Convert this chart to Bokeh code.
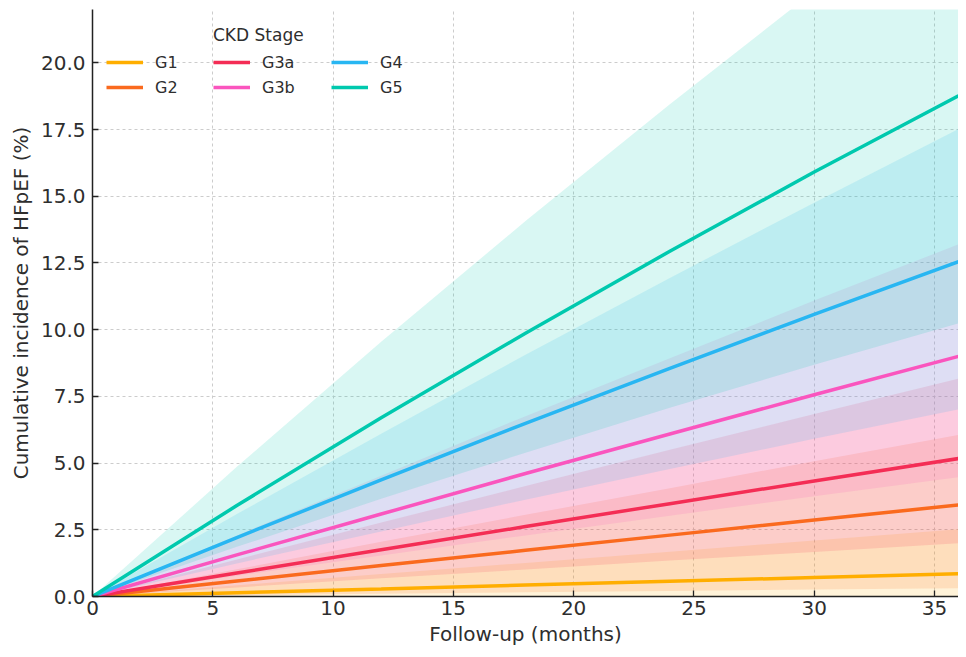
from bokeh.plotting import figure
from bokeh.models import Range1d, FixedTicker, PrintfTickFormatter, Legend, LegendItem
from bokeh.embed import file_html
from bokeh.resources import INLINE

# ---- data ----
months = [0, 6, 12, 18, 24, 30, 36]
stages = ["G1", "G2", "G3a", "G3b", "G4", "G5"]
colors = ["#FFAE00", "#FA6A1E", "#F42D55", "#FA55BE", "#28B6F2", "#00C9AE"]

g1_est = [0, 0.14, 0.28, 0.43, 0.57, 0.71, 0.85]
g1_lo = [0, 0.00, 0.00, 0.00, 0.00, 0.00, 0.00]
g1_hi = [0, 0.42, 0.84, 1.26, 1.68, 2.10, 2.52]

g2_est = [0, 0.58, 1.16, 1.73, 2.30, 2.87, 3.43]
g2_lo = [0, 0.05, 0.10, 0.16, 0.21, 0.26, 0.31]
g2_hi = [0, 1.02, 2.05, 3.06, 4.06, 5.07, 6.06]

g3a_est = [0, 0.88, 1.75, 2.62, 3.48, 4.33, 5.17]
g3a_lo = [0, 0.34, 0.68, 1.01, 1.35, 1.67, 2.00]
g3a_hi = [0, 1.39, 2.77, 4.14, 5.50, 6.84, 8.17]

g3b_est = [0, 1.56, 3.09, 4.61, 6.09, 7.56, 9.00]
g3b_lo = [0, 0.78, 1.54, 2.29, 3.03, 3.76, 4.47]
g3b_hi = [0, 2.29, 4.53, 6.76, 8.93, 11.09, 13.20]

g4_est = [0, 2.21, 4.37, 6.49, 8.55, 10.57, 12.55]
g4_lo = [0, 1.24, 2.44, 3.63, 4.78, 5.91, 7.01]
g4_hi = [0, 3.09, 6.10, 9.06, 11.94, 14.76, 17.52]

g5_est = [0, 3.41, 6.70, 9.87, 12.94, 15.91, 18.77]
g5_lo = [0, 1.86, 3.66, 5.39, 7.07, 8.69, 10.24]
g5_hi = [0, 4.86, 9.55, 14.07, 18.45, 22.69, 26.77]

x_ticks = [0, 5, 10, 15, 20, 25, 30, 35]
y_ticks = [0, 2.5, 5, 7.5, 10, 12.5, 15, 17.5, 20]

series = [
    (g1_est, g1_lo, g1_hi),
    (g2_est, g2_lo, g2_hi),
    (g3a_est, g3a_lo, g3a_hi),
    (g3b_est, g3b_lo, g3b_hi),
    (g4_est, g4_lo, g4_hi),
    (g5_est, g5_lo, g5_hi),
]

FONT = "DejaVu Sans"
TXT = "#2e2e2e"

p = figure(width=958, height=649, output_backend="svg", toolbar_location=None,
           x_range=Range1d(0, 36), y_range=Range1d(0, 22),
           min_border_left=92, min_border_right=0, min_border_top=9, min_border_bottom=53)
p.outline_line_color = None
p.background_fill_color = "white"

# confidence bands first, then all lines on top
for (est, lo, hi), col in zip(series, colors):
    p.varea(x=months, y1=lo, y2=hi, fill_color=col, fill_alpha=0.15)

line_renderers = []
for (est, lo, hi), col in zip(series, colors):
    r = p.line(months, est, line_color=col, line_width=3.5)
    line_renderers.append(r)

# axes
for ax in (p.xaxis[0], p.yaxis[0]):
    ax.axis_line_color = "#222222"
    ax.axis_line_width = 1.5
    ax.major_tick_line_color = "#222222"
    ax.major_tick_line_width = 1.3
    ax.major_tick_in = 6
    ax.major_tick_out = 0
    ax.minor_tick_line_color = None
    ax.major_label_text_font = FONT
    ax.major_label_text_font_size = "20px"
    ax.major_label_text_color = TXT
    ax.axis_label_text_font = FONT
    ax.axis_label_text_font_size = "20px"
    ax.axis_label_text_font_style = "normal"
    ax.axis_label_text_color = TXT

p.xaxis.ticker = FixedTicker(ticks=x_ticks)
p.yaxis.ticker = FixedTicker(ticks=y_ticks)
p.yaxis.formatter = PrintfTickFormatter(format="%.1f")
p.xaxis.axis_label = "Follow-up (months)"
p.yaxis.axis_label = "Cumulative incidence of HFpEF (%)"
p.xaxis.major_label_standoff = 4
p.yaxis.major_label_standoff = 7
p.xaxis.axis_label_standoff = 4
p.yaxis.axis_label_standoff = 5

for g in (p.xgrid[0], p.ygrid[0]):
    g.grid_line_color = "#cccccc"
    g.grid_line_dash = "3 3"
    g.grid_line_width = 1
p.xgrid.ticker = FixedTicker(ticks=x_ticks)
p.ygrid.ticker = FixedTicker(ticks=y_ticks)

# legend: three columns of two rows
col_x = [14, 121, 239]
for ci in range(3):
    items = [LegendItem(label=stages[2 * ci + k], renderers=[line_renderers[2 * ci + k]])
             for k in range(2)]
    leg = Legend(items=items, location=(col_x[ci], 499), orientation="vertical",
                 padding=0, margin=0, spacing=5,
                 glyph_width=37, glyph_height=20, label_height=20, label_standoff=12,
                 label_text_font=FONT, label_text_font_size="16px", label_text_color=TXT,
                 border_line_color=None, background_fill_alpha=0)
    if ci == 1:
        leg.title = "CKD Stage"
        leg.title_text_font = FONT
        leg.title_text_font_size = "17px"
        leg.title_text_font_style = "normal"
        leg.title_text_color = TXT
        leg.title_standoff = 7
    p.add_layout(leg)

open("out.html", "w").write(file_html(p, INLINE))
